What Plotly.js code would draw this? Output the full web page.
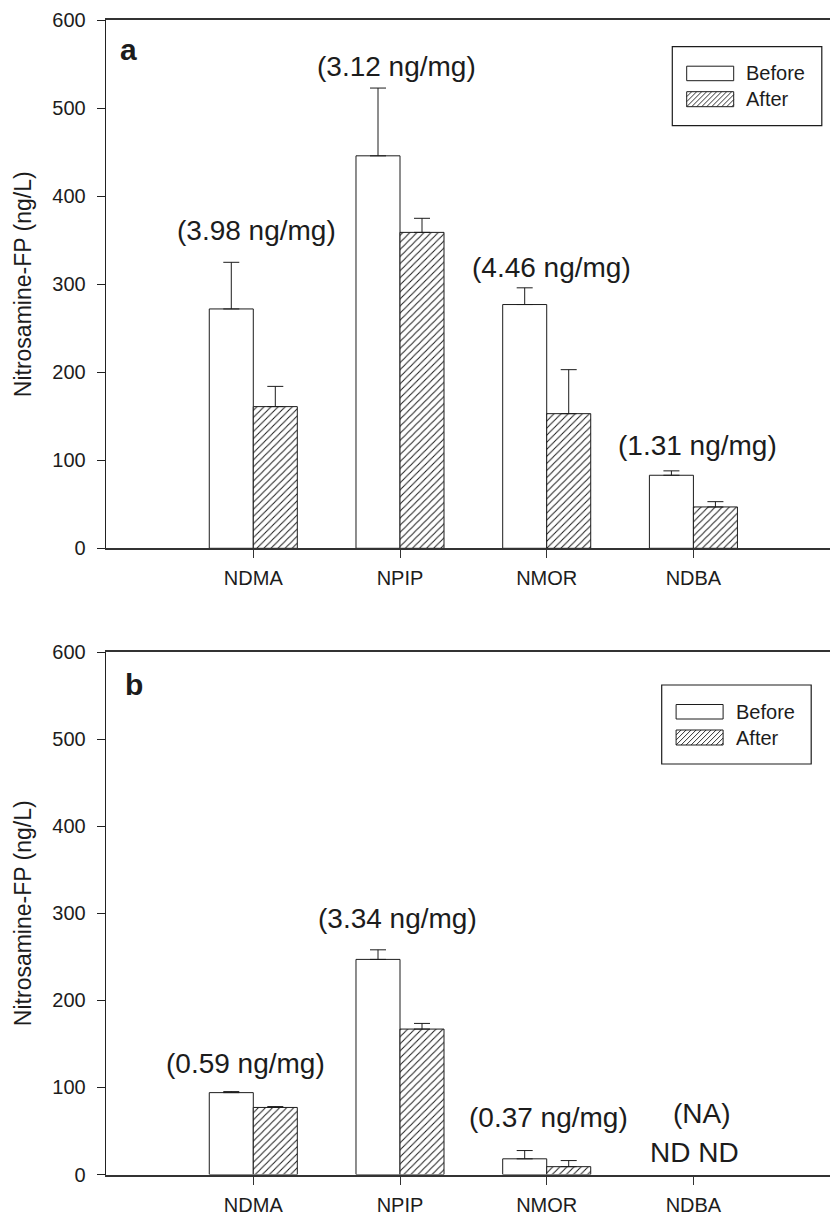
<!DOCTYPE html>
<html><head><meta charset="utf-8">
<script src="https://cdn.plot.ly/plotly-3.0.1.min.js"></script>
<style>html,body{margin:0;padding:0;background:#fff}</style>
</head><body><div id="chart" style="width:830px;height:1214px"></div>
<script>
// ---------- data ----------
const categories = ['NDMA', 'NPIP', 'NMOR', 'NDBA'];
const seriesNames = ['Before', 'After'];
const panelNames = ['a', 'b'];
const yTicks = [0, 100, 200, 300, 400, 500, 600];

const aBefore    = [272, 446, 277, 83];
const aBeforeErr = [53, 77, 19, 5];
const aAfter     = [161, 359, 153, 47];
const aAfterErr  = [23, 16, 50, 6];

const bBefore    = [94, 247, 18, null];
const bBeforeErr = [1.2, 11, 9.5, null];
const bAfter     = [77, 167, 9, null];
const bAfterErr  = [1, 6.5, 7, null];

const aLabels = ['(3.98 ng/mg)', '(3.12 ng/mg)', '(4.46 ng/mg)', '(1.31 ng/mg)'];
const bLabels = ['(0.59 ng/mg)', '(3.34 ng/mg)', '(0.37 ng/mg)', '(NA)'];
const ndLabel = 'ND ND';
const yTitle = 'Nitrosamine-FP (ng/L)';

// ---------- layout helpers ----------
const W = 830, H = 1214, L = 106;
const px = x => (x - L) / (W - L);
const py = y => 1 - y / H;
const INK = '#1c1c1c';
const FONT = 'Liberation Sans, Arial, Helvetica, sans-serif';

function barTrace(y, err, name, hatched, xa, ya) {
  return {
    type: 'bar', x: categories, y: y, name: name, xaxis: xa, yaxis: ya,
    showlegend: false, hoverinfo: 'skip',
    marker: {
      color: 'white',
      line: {color: INK, width: 1},
      pattern: hatched ? {shape: '/', fgcolor: INK, bgcolor: 'white', size: 5, solidity: 0.2} : {shape: ''}
    },
    error_y: {
      type: 'data', symmetric: false, array: err,
      arrayminus: err.map(v => v == null ? null : 0),
      color: INK, thickness: 1, width: 8
    }
  };
}

const data = [
  barTrace(aBefore, aBeforeErr, seriesNames[0], false, 'x', 'y'),
  barTrace(aAfter, aAfterErr, seriesNames[1], true, 'x', 'y'),
  barTrace(bBefore, bBeforeErr, seriesNames[0], false, 'x2', 'y2'),
  barTrace(bAfter, bAfterErr, seriesNames[1], true, 'x2', 'y2')
];

function xAxis(anchor) {
  return {
    anchor: anchor, domain: [0, 1], type: 'category',
    categoryorder: 'array', categoryarray: categories,
    range: [-1.004, 3.931],
    showline: true, linecolor: '#333', linewidth: 2, mirror: true,
    ticks: 'outside', ticklen: 8, tickwidth: 1, tickcolor: '#333',
    tickfont: {size: 20, color: INK, family: FONT}, ticklabelstandoff: 3,
    showgrid: false, zeroline: false, fixedrange: true
  };
}
function yAxis(anchor, top, bottom) {
  return {
    anchor: anchor, domain: [py(bottom), py(top)], range: [0, 600],
    tickmode: 'array', tickvals: yTicks, ticktext: yTicks.map(String),
    showline: true, linecolor: '#222', linewidth: 1.3,
    ticks: 'outside', ticklen: 8, tickwidth: 1, tickcolor: '#222',
    tickfont: {size: 20, color: INK, family: FONT}, ticklabelstandoff: 7,
    showgrid: false, zeroline: false, fixedrange: true,
    title: {text: yTitle, font: {size: 23, color: INK, family: FONT}, standoff: 14}
  };
}

const shapes = [];
const annotations = [];

function legend(bx, by) {
  const bw = 149.5, bh = 79;
  shapes.push({type: 'rect', xref: 'paper', yref: 'paper',
    x0: px(bx), x1: px(bx + bw), y0: py(by), y1: py(by + bh),
    line: {color: INK, width: 1.2}, fillcolor: 'white', layer: 'above'});
  const sx0 = bx + 14.4, sx1 = sx0 + 47;
  const rows = [[by + 19.5, by + 34], [by + 45, by + 60]];
  // hatched swatch lines
  const [ht, hb] = rows[1];
  const h = hb - ht, s = 5;
  let path = '';
  for (let c = sx0 - h; c < sx1; c += s) {
    const t0 = Math.max(0, sx0 - c), t1 = Math.min(h, sx1 - c);
    if (t1 <= t0) continue;
    path += 'M' + px(c + t0) + ',' + py(hb - t0) + 'L' + px(c + t1) + ',' + py(hb - t1);
  }
  shapes.push({type: 'path', xref: 'paper', yref: 'paper', path: path,
    line: {color: INK, width: 0.9}, layer: 'above'});
  rows.forEach((r, i) => {
    shapes.push({type: 'rect', xref: 'paper', yref: 'paper',
      x0: px(sx0), x1: px(sx1), y0: py(r[0]), y1: py(r[1]),
      line: {color: INK, width: 1}, fillcolor: 'rgba(0,0,0,0)', layer: 'above'});
    annotations.push({xref: 'paper', yref: 'paper', x: px(bx + 72), y: py((r[0] + r[1]) / 2),
      xanchor: 'left', yanchor: 'middle', showarrow: false, text: seriesNames[i],
      font: {size: 20, color: INK, family: FONT}});
  });
}
legend(672.3, 46.7);
legend(661.7, 685);

// panel letters
annotations.push({xref: 'paper', yref: 'paper', x: px(118), y: py(49.5), xanchor: 'left', yanchor: 'middle',
  showarrow: false, text: '<b>' + panelNames[0] + '</b>', font: {size: 30, color: INK, family: FONT}});
annotations.push({xref: 'paper', yref: 'paper', x: px(122.5), y: py(684.5), xanchor: 'left', yanchor: 'middle',
  showarrow: false, text: '<b>' + panelNames[1] + '</b>', font: {size: 30, color: INK, family: FONT}});

// value labels
const aLabelPos = [[0.02, 361], [0.976, 547], [2.03, 319], [3.025, 116.5]];
const bLabelPos = [[-0.053, 127], [0.98, 293.5], [2.01, 65.5], [3.06, 70.6]];
aLabels.forEach((t, i) => annotations.push({xref: 'x', yref: 'y', x: aLabelPos[i][0], y: aLabelPos[i][1],
  text: t, showarrow: false, xanchor: 'center', yanchor: 'middle', font: {size: 28, color: INK, family: FONT}}));
bLabels.forEach((t, i) => annotations.push({xref: 'x2', yref: 'y2', x: bLabelPos[i][0], y: bLabelPos[i][1],
  text: t, showarrow: false, xanchor: 'center', yanchor: 'middle', font: {size: 28, color: INK, family: FONT}}));
annotations.push({xref: 'x2', yref: 'y2', x: 3.01, y: 24.7, text: ndLabel, showarrow: false,
  xanchor: 'center', yanchor: 'middle', font: {size: 28, color: INK, family: FONT}});

const layout = {
  width: W, height: H, margin: {l: L, r: 0, t: 0, b: 0, pad: 0},
  paper_bgcolor: 'white', plot_bgcolor: 'white',
  font: {family: FONT, color: INK},
  barmode: 'group', bargap: 0.4, bargroupgap: 0, showlegend: false,
  xaxis: xAxis('y'), yaxis: yAxis('x', 20.3, 548.3),
  xaxis2: xAxis('y2'), yaxis2: yAxis('x2', 652, 1174.5),
  shapes: shapes, annotations: annotations
};

Plotly.newPlot('chart', data, layout, {staticPlot: true, displayModeBar: false});
</script>
</body></html>
